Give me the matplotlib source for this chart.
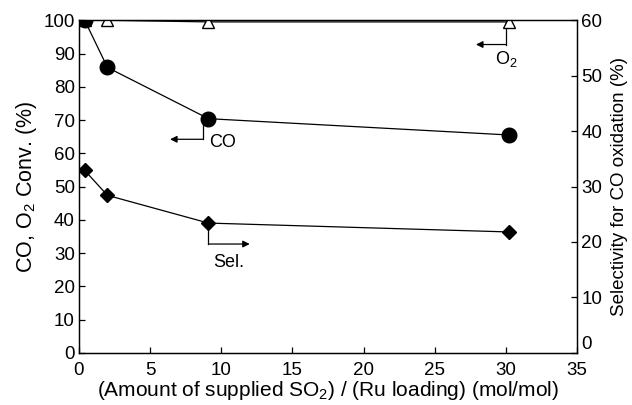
import matplotlib

matplotlib.use("Agg")

import matplotlib.pyplot as plt

plt.rcParams["font.family"] = ["Liberation Sans", "DejaVu Sans"]
plt.rcParams["mathtext.fontset"] = "custom"
plt.rcParams["mathtext.rm"] = "Liberation Sans"
plt.rcParams["mathtext.it"] = "Liberation Sans:italic"

# data
so2_ratio = [0.4, 2.0, 9.1, 30.2]
co_conv = [100.0, 85.8, 70.4, 65.5]
o2_conv = [100.0, 100.0, 99.5, 99.5]
selectivity = [32.9, 28.4, 23.4, 21.8]

fig = plt.figure(figsize=(6.32, 4.05), dpi=100)
ax = fig.add_subplot(111)
fig.subplots_adjust(left=0.125, right=0.913, bottom=0.129, top=0.95)
ax2 = ax.twinx()

ax.plot(so2_ratio, o2_conv, color="black", lw=0.9, marker="^", ms=9,
        mfc="white", mec="black", mew=1.0, zorder=3)
ax.plot(so2_ratio, co_conv, color="black", lw=0.9, marker="o", ms=10.5,
        mfc="black", mec="black", zorder=4)
ax2.plot(so2_ratio, selectivity, color="black", lw=0.9, marker="D", ms=7.5,
         mfc="black", mec="black")

ax.set_xlim(0, 35)
ax.set_ylim(0, 100)
ax2.set_ylim(0, 60)
ax.set_xticks(range(0, 36, 5))
ax.set_yticks(range(0, 101, 10))
ax2.set_yticks(range(0, 61, 10))

for a in (ax, ax2):
    a.tick_params(direction="in", length=4, width=0.9, labelsize=13.5, pad=3)
    for s in a.spines.values():
        s.set_linewidth(0.9)
ax.tick_params(axis="x", pad=7)
# lift the bottom right-axis label a little so it clears "35"
ax2.get_yticklabels()[0].set_y(1.0)
for lbl in ax2.get_yticklabels()[:1]:
    lbl.set_verticalalignment("bottom")

ax.set_xlabel("(Amount of supplied SO$_2$) / (Ru loading) (mol/mol)", fontsize=15, labelpad=0)
ax.set_ylabel("CO, O$_2$ Conv. (%)", fontsize=15.5, labelpad=3)
ax2.set_ylabel("Selectivity for CO oxidation (%)", fontsize=13.5, labelpad=6)


def bent_arrow(axis, x0, y0, y1, x1, label, lx, ly):
    axis.plot([x0, x0], [y0, y1], color="black", lw=0.9)
    axis.annotate("", xy=(x1, y1), xytext=(x0, y1),
                  arrowprops=dict(arrowstyle="-|>", color="black", lw=0.9,
                                  mutation_scale=10, shrinkA=0, shrinkB=0))
    axis.text(lx, ly, label, fontsize=13, ha="center", va="center")


bent_arrow(ax, so2_ratio[2] - 0.4, co_conv[2], 64.2, 6.4, "CO", 10.1, 63.2)
bent_arrow(ax, so2_ratio[3] - 0.2, o2_conv[3], 92.7, 27.9, "O$_2$", 30.0, 88.3)
bent_arrow(ax, so2_ratio[2], 39.0, 32.7, 12.0, "Sel.", 10.5, 27.0)

fig.savefig("out.png", dpi=100)
